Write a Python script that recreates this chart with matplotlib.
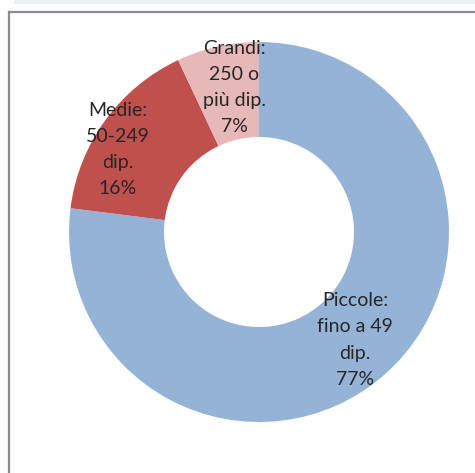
import matplotlib
matplotlib.use("Agg")
import matplotlib.pyplot as plt
from matplotlib.patches import Rectangle
from matplotlib.lines import Line2D
import numpy as np

categories = ["Piccole:\nfino a 49\ndip.", "Medie:\n50-249\ndip.", "Grandi:\n250 o\npiù dip."]
values = [77, 16, 7]
colors = ["#95B3D7", "#C0504D", "#E6B9B8"]

W, H = 475, 473
fig = plt.figure(figsize=(W / 100, H / 100), dpi=100)
fig.patch.set_facecolor("white")

# top light strip and frame
fig.add_artist(Rectangle((14 / W, 1 - 4 / H), 1, 4 / H, transform=fig.transFigure,
                         facecolor="#EAF0F4", edgecolor="none"))
fig.add_artist(Line2D([8.5 / W, 8.5 / W], [0, 1 - 12 / H], transform=fig.transFigure,
                      color="#8C8C8C", lw=1.6))
fig.add_artist(Line2D([8.5 / W, 1], [1 - 12.5 / H, 1 - 12.5 / H], transform=fig.transFigure,
                      color="#8C8C8C", lw=1.6))

ax = fig.add_axes([0, 0, 1, 1])

cx, cy, R = 259, H - 232, 190
wedges, texts = ax.pie(values, colors=colors, startangle=90, counterclock=False,
                       center=(cx, cy), radius=R, frame=True,
                       wedgeprops=dict(width=R * 0.5, edgecolor="none"),
                       labels=[f"{c}\n{v}%" for c, v in zip(categories, values)],
                       labeldistance=0.76,
                       textprops=dict(ha="center", va="center", fontsize=14,
                                      color="#262626", family="Lato",
                                      linespacing=1.65))
ax.set_xlim(0, W)
ax.set_ylim(0, H)
ax.set_aspect("equal")
ax.axis("off")

# fine-tune label radii (Excel best-fit placement)
adj = [(0.76, -48.4), (0.86, 149.7), (0.77, 99.8)]
for t, (rf, ang) in zip(texts, adj):
    a = np.deg2rad(ang)
    t.set_position((cx + rf * R * np.cos(a), cy + rf * R * np.sin(a)))
    t.set_ha("center")

fig.savefig("out.png", dpi=100)
